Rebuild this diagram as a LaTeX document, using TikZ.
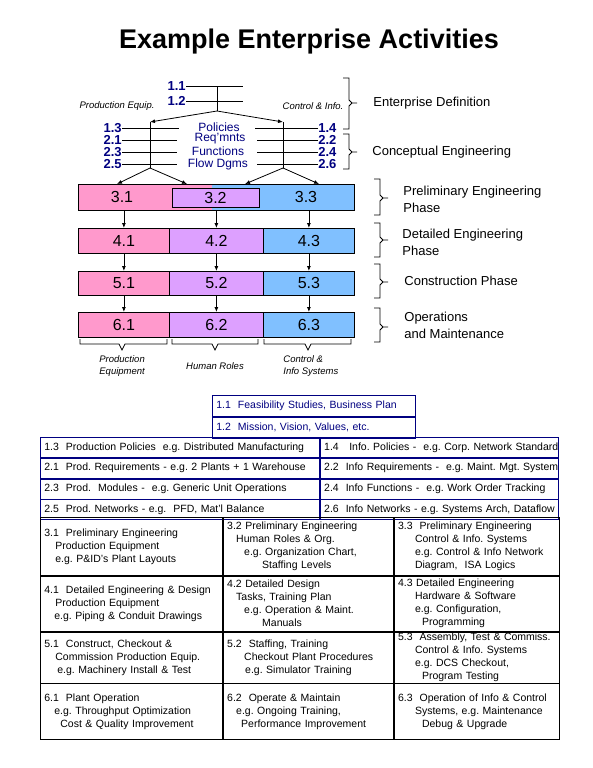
\documentclass[tikz,border=0pt]{standalone}
\usepackage{fontspec}
\setmainfont{Liberation Sans}
\usetikzlibrary{arrows.meta, positioning}
\frenchspacing

\definecolor{navy}{RGB}{0,0,128}
\definecolor{prodpink}{RGB}{255,153,204}
\definecolor{humanviolet}{RGB}{221,160,255}
\definecolor{infoblue}{RGB}{128,192,255}

\begin{document}
\begin{tikzpicture}[
        x = 1pt, y = -1pt,
        line width = 0.8pt,
        >= {Latex[length = 5pt, width = 4pt]},
        num/.style = {font = \fontsize{13}{14}\selectfont\bfseries, text = navy, inner sep = 0pt},
        topic/.style = {font = \fontsize{12}{13}\selectfont, text = navy, inner sep = 0pt},
        side/.style = {font = \fontsize{9.5}{12}\selectfont\itshape, inner sep = 0pt},
        phase/.style = {font = \fontsize{13}{17}\selectfont, align = left, anchor = west, inner sep = 0pt},
        phasecell/.style = {draw, anchor = north west, inner sep = 0pt, font = \fontsize{16}{16}\selectfont},
        phasenum/.style = {inner sep = 0pt, font = \fontsize{16}{16}\selectfont},
        defrow/.style = {draw = navy, anchor = north west, align = left, inner xsep = 4pt, inner ysep = 0pt,
                         minimum height = 20pt, font = \fontsize{10.5}{13}\selectfont},
        actcell/.style = {draw, anchor = north west, align = left, inner xsep = 4pt, inner ysep = 0pt,
                          font = \fontsize{10.5}{13}\selectfont}
    ]

    \useasboundingbox (0,0) rectangle (593,768);

    \node[font = \fontsize{27}{30}\selectfont\bfseries] (title) at (309,42) {Example Enterprise Activities};

    % enterprise definition and conceptual engineering
    \node[num, anchor = east] (n11) at (186,86) {1.1};
    \node[num, anchor = east] (n12) at (186,101) {1.2};
    \node[num, anchor = east] (n13) at (122,128) {1.3};
    \node[num, anchor = east] (n21) at (122,140) {2.1};
    \node[num, anchor = east] (n23) at (122,152) {2.3};
    \node[num, anchor = east] (n25) at (122,164) {2.5};
    \node[num, anchor = west] (n14) at (318,128) {1.4};
    \node[num, anchor = west] (n22) at (318,140) {2.2};
    \node[num, anchor = west] (n24) at (318,152) {2.4};
    \node[num, anchor = west] (n26) at (318,164) {2.6};

    \node[topic] (pol) at (219,127) {Policies};
    \node[topic] (req) at (220,139) {Req'mnts};
    \node[topic] (fun) at (218,151) {Functions};
    \node[topic] (flo) at (218,164) {Flow Dgms};

    \node[side] (peq) at (117,106) {Production Equip.};
    \node[side] (cin) at (313,106) {Control \& Info.};

    \draw (n11.east) -- ++(57,0);
    \draw (n12.east) -- ++(57,0);
    \draw (n13.east) -- ++(57,0);
    \draw (n21.east) -- ++(55,0);
    \draw (n23.east) -- ++(55,0);
    \draw (n25.east) -- ++(55,0);
    \draw (n14.west) -- ++(-63,0);
    \draw (n22.west) -- ++(-61,0);
    \draw (n24.west) -- ++(-61,0);
    \draw (n26.west) -- ++(-61,0);

    \coordinate (fork) at (217,111);
    \coordinate (lsplit) at (150,122);
    \coordinate (rsplit) at (283,122);
    \coordinate (lfoot) at (150,168);
    \coordinate (rfoot) at (283,168);

    \draw (n11.east -| fork) -- (fork);
    \draw[->] (fork) -- (lsplit);
    \draw[->] (fork) -- (rsplit);
    \draw (lsplit) -- (lfoot);
    \draw (rsplit) -- (rfoot);

    % phase rows
    \fill[prodpink] (78,184) rectangle (212,210);
    \fill[infoblue] (212,184) rectangle (354,210);
    \node[phasecell, minimum width = 276pt, minimum height = 26pt] (r3) at (78,184) {};
    \node[phasecell, anchor = center, fill = humanviolet, minimum width = 87pt, minimum height = 19pt] (c32) at (215.5,197.5) {3.2};
    \node[phasenum] (c31) at (122,197) {3.1};
    \node[phasenum] (c33) at (306,197) {3.3};

    \foreach \r/\ytop/\h in {4/228/25, 5/271/24, 6/312/25} {
        \node[phasecell, fill = prodpink, minimum width = 91pt, minimum height = \h pt] (c\r1) at (78,\ytop) {\r.1};
        \node[phasecell, fill = humanviolet, minimum width = 94pt, minimum height = \h pt] (c\r2) at (169,\ytop) {\r.2};
        \node[phasecell, fill = infoblue, minimum width = 91pt, minimum height = \h pt] (c\r3) at (263,\ytop) {\r.3};
    }

    \coordinate (in1) at (117,184);
    \coordinate (in2) at (187,184);
    \coordinate (in3) at (245,184);
    \coordinate (in4) at (319,184);
    \draw[->] (lfoot) -- (in1);
    \draw[->] (lfoot) -- (in2);
    \draw[->] (rfoot) -- (in3);
    \draw[->] (rfoot) -- (in4);

    \draw[->] (c41.north |- r3.south) -- (c41.north);
    \draw[->] (c42.north |- r3.south) -- (c42.north);
    \draw[->] (c43.north |- r3.south) -- (c43.north);
    \draw[->] (c41) -- (c51);
    \draw[->] (c42) -- (c52);
    \draw[->] (c43) -- (c53);
    \draw[->] (c51) -- (c61);
    \draw[->] (c52) -- (c62);
    \draw[->] (c53) -- (c63);

    % braces
    \foreach \bx/\ya/\yb/\yc in {349/78/103/129, 349/134/152/169, 380/179/198/215,
                                 380/223/240/257, 380/264/282/298, 380/308/327/342}
        \draw (\bx-6,\ya) -- (\bx,\ya) -- (\bx,\yb-3) -- (\bx+3,\yb) -- (\bx+8,\yb)
              (\bx+3,\yb) -- (\bx,\yb+3) -- (\bx,\yc) -- (\bx-6,\yc);

    \foreach \xa/\xm/\xb in {80/122/167, 172/215/258, 264/308/351}
        \draw (\xa,339) -- (\xa,344) -- (\xm-3,344) -- (\xm,350) -- (\xm+3,344) -- (\xb,344) -- (\xb,339);

    \node[phase] (ent) at (373,103) {Enterprise Definition};
    \node[phase] (cpt) at (372,152) {Conceptual Engineering};
    \node[phase] (pre) at (403,199) {Preliminary Engineering\\Phase};
    \node[phase] (det) at (402,242) {Detailed Engineering\\Phase};
    \node[phase] (cst) at (404,281) {Construction Phase};
    \node[phase] (ops) at (404,325) {Operations\\and Maintenance};

    \node[side, align = left, anchor = north west] (prodeq) at (99,355) {Production\\Equipment};
    \node[side] (human) at (215,366) {Human Roles};
    \node[side, align = left, anchor = north west] (ctrlsys) at (283,355) {Control \&\\Info Systems};

    % activity table
    \node[defrow, text = navy, text width = 195pt, minimum height = 21pt] (t11) at (212,395) {1.1\ \ Feasibility Studies, Business Plan};
    \node[defrow, text = navy, text width = 195pt, minimum height = 21pt] (t12) at (t11.south west) {1.2\ \ Mission, Vision, Values, etc.};

    \node[defrow, text width = 271pt] (t13) at (40,437) {\mbox{1.3\ \ Production Policies\ \ e.g. Distributed Manufacturing}};
    \node[defrow, text width = 271pt] (t21) at (t13.south west) {\mbox{2.1\ \ Prod. Requirements - e.g. 2 Plants + 1 Warehouse}};
    \node[defrow, text width = 271pt] (t23) at (t21.south west) {\mbox{2.3\ \ Prod.\ \ Modules -\ \ e.g. Generic Unit Operations}};
    \node[defrow, text width = 271pt] (t25) at (t23.south west) {\mbox{2.5\ \ Prod. Networks - e.g.\ \ PFD, Mat'l Balance}};
    \node[defrow, text width = 230pt] (t14) at (t13.north east) {\mbox{1.4\ \ \ Info. Policies -\ \ e.g. Corp. Network Standard}};
    \node[defrow, text width = 230pt] (t22) at (t14.south west) {\mbox{2.2\ \ Info Requirements -\ \ e.g. Maint. Mgt. System}};
    \node[defrow, text width = 230pt] (t24) at (t22.south west) {\mbox{2.4\ \ Info Functions -\ \ e.g. Work Order Tracking}};
    \node[defrow, text width = 230pt] (t26) at (t24.south west) {\mbox{2.6\ \ Info Networks - e.g. Systems Arch, Dataflow}};

    \node[actcell, text width = 174pt, minimum height = 58pt] (a31) at (40,517)
        {3.1\ \ Preliminary Engineering\\\hspace*{11pt}Production Equipment\\\hspace*{11pt}e.g. P\&ID's Plant Layouts};
    \node[actcell, text width = 162pt, minimum height = 58pt] (a32) at (a31.north east)
        {3.2\ Preliminary Engineering\\\hspace*{9pt}Human Roles \& Org.\\\hspace*{17pt}e.g. Organization Chart,\\\hspace*{35pt}Staffing Levels};
    \node[actcell, text width = 157pt, minimum height = 58pt] (a33) at (a32.north east)
        {3.3\ \ Preliminary Engineering\\\hspace*{17pt}Control \& Info. Systems\\\hspace*{17pt}e.g. Control \& Info Network\\\hspace*{17pt}Diagram,\ \ ISA Logics};

    \node[actcell, text width = 174pt, minimum height = 55pt] (a41) at (a31.south west)
        {4.1\ \ Detailed Engineering \& Design\\\hspace*{11pt}Production Equipment\\\hspace*{10pt}e.g. Piping \& Conduit Drawings};
    \node[actcell, text width = 162pt, minimum height = 55pt] (a42) at (a41.north east)
        {4.2\ Detailed Design\\\hspace*{9pt}Tasks, Training Plan\\\hspace*{17pt}e.g. Operation \& Maint.\\\hspace*{35pt}Manuals};
    \node[actcell, text width = 157pt, minimum height = 55pt] (a43) at (a42.north east)
        {4.3\ Detailed Engineering\\\hspace*{17pt}Hardware \& Software\\\hspace*{17pt}e.g. Configuration,\\\hspace*{24pt}Programming};

    \node[actcell, text width = 174pt, minimum height = 51pt] (a51) at (a41.south west)
        {5.1\ \ Construct, Checkout \&\\\hspace*{11pt}Commission Production Equip.\\\hspace*{13pt}e.g. Machinery Install \& Test};
    \node[actcell, text width = 162pt, minimum height = 51pt] (a52) at (a51.north east)
        {5.2\ \ Staffing, Training\\\hspace*{17pt}Checkout Plant Procedures\\\hspace*{18pt}e.g. Simulator Training};
    \node[actcell, text width = 157pt, minimum height = 51pt] (a53) at (a52.north east)
        {5.3\ \ Assembly, Test \& Commiss.\\\hspace*{17pt}Control \& Info. Systems\\\hspace*{17pt}e.g. DCS Checkout,\\\hspace*{24pt}Program Testing};

    \node[actcell, text width = 174pt, minimum height = 56pt] (a61) at (a51.south west)
        {6.1\ \ Plant Operation\\\hspace*{10pt}e.g. Throughput Optimization\\\hspace*{16pt}Cost \& Quality Improvement};
    \node[actcell, text width = 162pt, minimum height = 56pt] (a62) at (a61.north east)
        {6.2\ \ Operate \& Maintain\\\hspace*{9pt}e.g. Ongoing Training,\\\hspace*{14pt}Performance Improvement};
    \node[actcell, text width = 157pt, minimum height = 56pt] (a63) at (a62.north east)
        {6.3\ \ Operation of Info \& Control\\\hspace*{17pt}Systems,\ e.g. Maintenance\\\hspace*{24pt}Debug \& Upgrade};

\end{tikzpicture}
\end{document}
